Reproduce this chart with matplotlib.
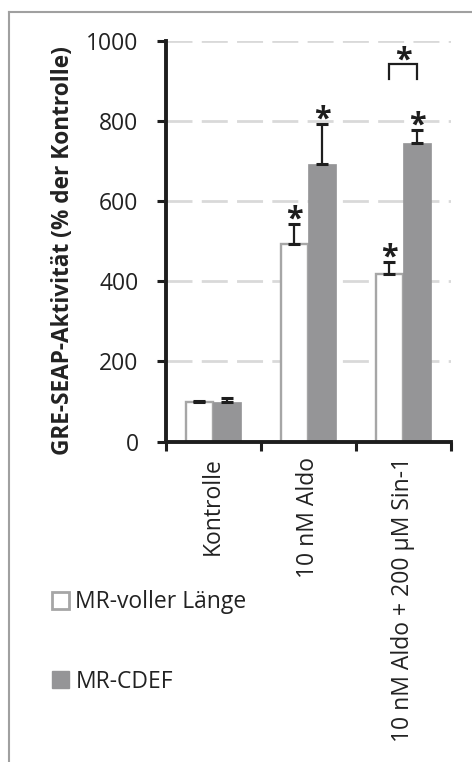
import matplotlib
matplotlib.use("Agg")
import matplotlib.pyplot as plt
from matplotlib.patches import Patch
from matplotlib.lines import Line2D
import numpy as np

# GRE-SEAP reporter activity, % of control
categories = ["Kontrolle", "10 nM Aldo", "10 nM Aldo + 200 µM Sin-1"]
mr_full = [100, 494, 417]
mr_full_err = [1, 48, 30]
mr_cdef = [100, 692, 744]
mr_cdef_err = [8, 100, 33]
full_sig = [False, True, True]
cdef_sig = [False, True, True]
series_labels = ["MR-voller Länge", "MR-CDEF"]
y_ticks = [0, 200, 400, 600, 800, 1000]

plt.rcParams["font.family"] = ["Open Sans", "DejaVu Sans"]
plt.rcParams["lines.scale_dashes"] = False

W, H = 472, 762
fig = plt.figure(figsize=(W / 100, H / 100), dpi=100)
ax = fig.add_axes([165.7 / W, 1 - 441.7 / H, 285 / W, 401 / H])

grey = "#959597"
edge = "#a6a6a6"
dark = "#1e1e1e"
x = np.arange(len(categories))
bw = 0.29

ax.bar(x - bw / 2, mr_full, bw, color="white", edgecolor=edge, linewidth=1.7, zorder=3)
ax.bar(x + bw / 2, mr_cdef, bw, color=grey, edgecolor=grey, linewidth=0.5, zorder=3)
ax.errorbar(x - bw / 2, mr_full, yerr=[np.zeros(3), mr_full_err], fmt="none",
            ecolor=dark, elinewidth=1.6, capsize=4.3, capthick=2.2, zorder=4)
ax.errorbar(x + bw / 2, mr_cdef, yerr=[np.zeros(3), mr_cdef_err], fmt="none",
            ecolor=dark, elinewidth=1.6, capsize=4.3, capthick=2.2, zorder=4)

# significance stars above the error bars
star_kw = dict(textcoords="offset points", ha="center", va="baseline",
               fontsize=22, fontweight="bold", color=dark, zorder=5)
for xs, vals, errs, sig in [(x - bw / 2, mr_full, mr_full_err, full_sig),
                            (x + bw / 2, mr_cdef, mr_cdef_err, cdef_sig)]:
    for xi, v, e, s in zip(xs, vals, errs, sig):
        if s:
            ax.annotate("*", (xi, v + e), xytext=(0, -2.5), **star_kw)

# bracket between the two Sin-1 bars
bx0, bx1 = x[2] - bw / 2, x[2] + bw / 2
ax.plot([bx0, bx0, bx1, bx1], [904, 942, 942, 904], color=dark, lw=1.6,
        solid_joinstyle="miter", zorder=5)
ax.annotate("*", ((bx0 + bx1) / 2, 942), xytext=(0, -3.5), **star_kw)

ax.set_ylim(0, 1000)
ax.set_xlim(-0.5, len(categories) - 0.5)
ax.set_yticks(y_ticks)
ax.set_yticklabels([str(t) for t in y_ticks], fontsize=16.5, color="#222222")
ax.set_xticks(x)
ax.set_xticklabels(categories, rotation=90, fontsize=16.5, color="#222222", va="top")
ax.set_xticks(np.arange(len(categories) + 1) - 0.5, minor=True)
ax.tick_params(axis="x", which="major", length=0, pad=11)
ax.tick_params(axis="x", which="minor", length=6.5, width=2.2, color=dark, direction="out")
ax.tick_params(axis="y", length=6.5, width=2.2, color=dark, pad=13)

for t in y_ticks[1:]:
    ax.axhline(t, color="#d9d9d9", lw=2.0, dashes=(18.7, 6.7), zorder=1)

for side in ["top", "right"]:
    ax.spines[side].set_visible(False)
for side in ["left", "bottom"]:
    ax.spines[side].set_linewidth(2.8)
    ax.spines[side].set_color(dark)
    ax.spines[side].set_zorder(6)

fig.text(63 / W, 1 - 251 / H, "GRE-SEAP-Aktivität (% der Kontrolle)", rotation=90,
         ha="center", va="center", fontsize=16.3, fontweight="bold", color="#222222")

handles = [Patch(facecolor="white", edgecolor=edge, linewidth=2.0),
           Patch(facecolor=grey, edgecolor=grey)]
fig.legend(handles, series_labels, loc="center left", bbox_to_anchor=(52 / W, 1 - 642 / H),
           frameon=False, fontsize=16.5, handlelength=0.72, handleheight=0.72,
           handletextpad=0.3, labelspacing=2.4, borderpad=0, borderaxespad=0,
           labelcolor="#222222")

# outer chart frame
fig.add_artist(Line2D([9 / W, 9 / W], [0, 1 - 12 / H], color="#a0a0a0", lw=1.5,
                      transform=fig.transFigure))
fig.add_artist(Line2D([9 / W, 1], [1 - 12 / H, 1 - 12 / H], color="#a0a0a0", lw=1.5,
                      transform=fig.transFigure))

fig.savefig("out.png", dpi=100)
